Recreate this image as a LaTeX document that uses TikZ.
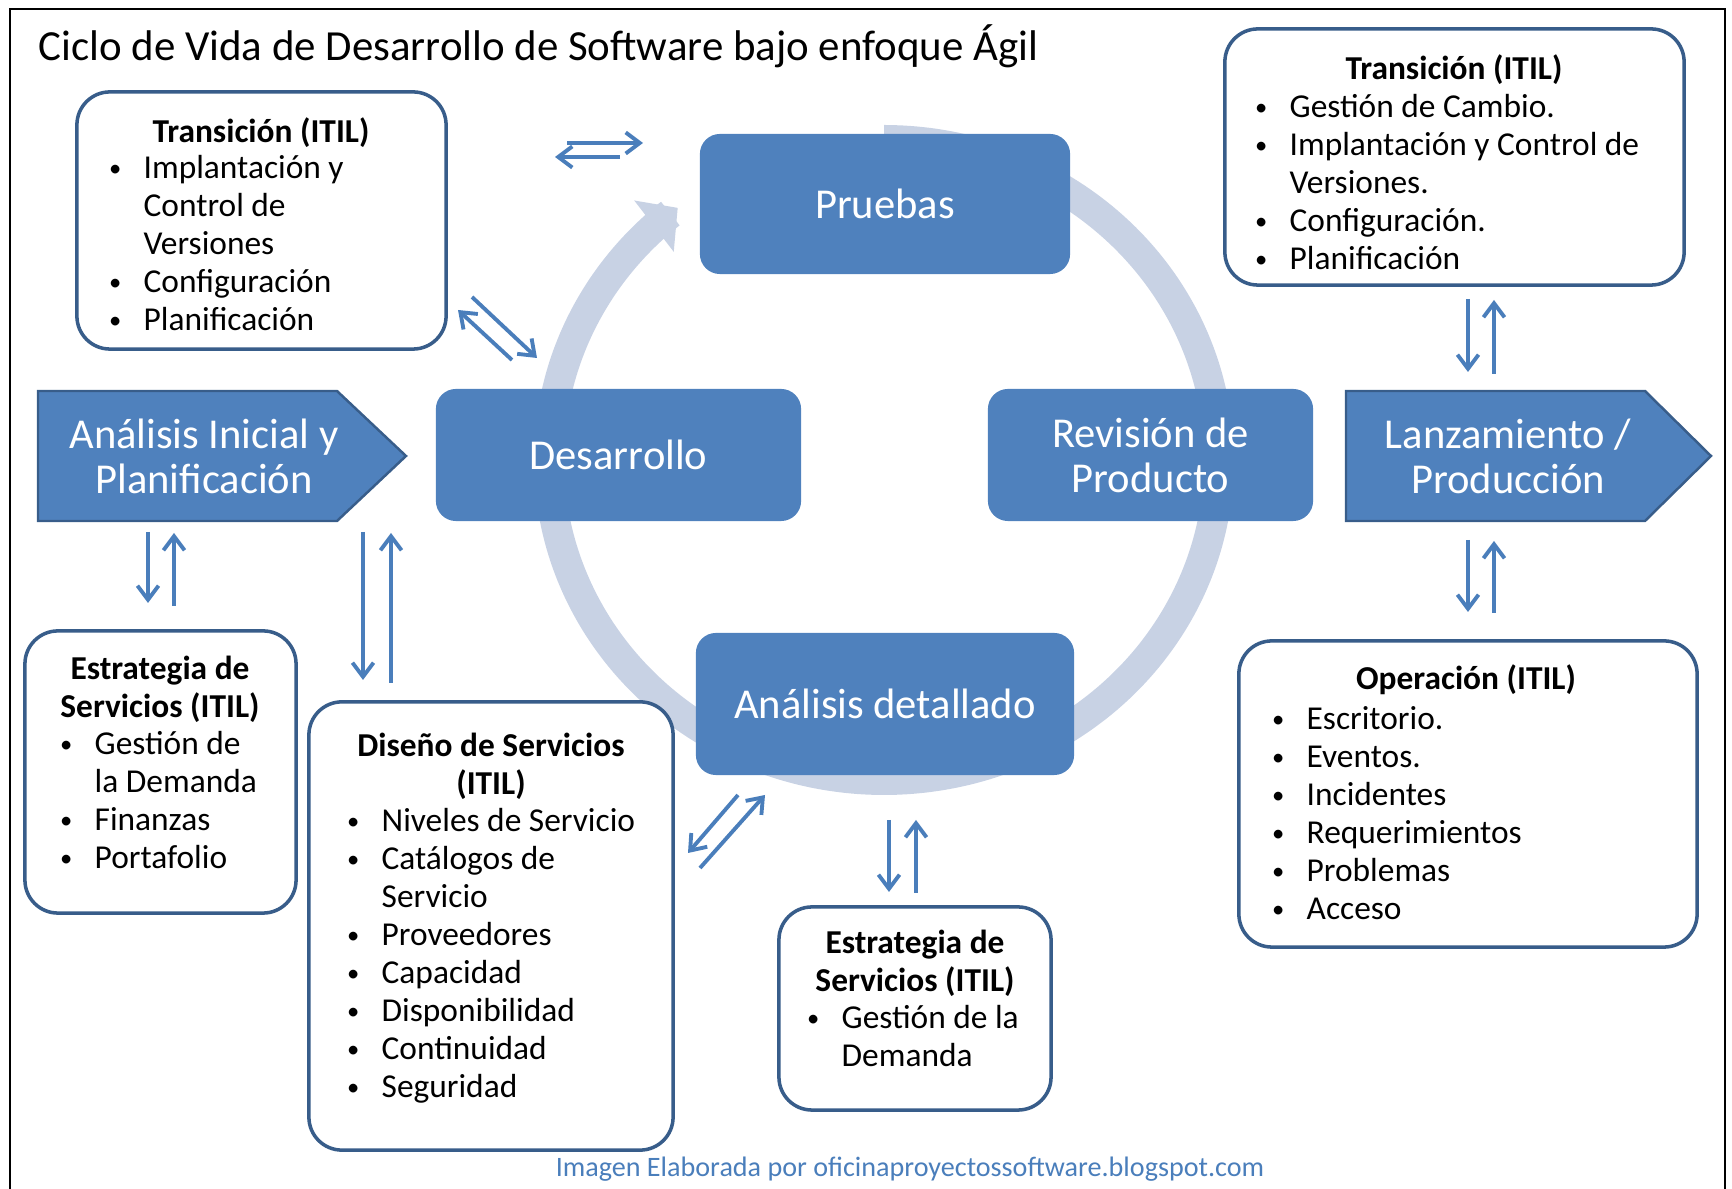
\documentclass[tikz,border=0pt]{standalone}
\usepackage{fontspec}
\setmainfont{Carlito}
\usetikzlibrary{arrows.meta}
\definecolor{azul}{HTML}{4F81BD}
\definecolor{azulosc}{HTML}{385D8A}
\definecolor{anillo}{HTML}{C8D2E4}
\definecolor{flecha}{HTML}{4A7EBB}
\newcommand{\vin}{\makebox[10.8pt][l]{\hspace{1pt}\raisebox{0.6pt}{\fontsize{7}{7}\selectfont\textbullet}}}
\newcommand{\sang}{\hspace*{10.8pt}}
\newcommand{\lineas}[1]{\begin{tabular}[t]{@{}l@{}}#1\end{tabular}}
\newcommand{\centradas}[1]{\begin{tabular}[t]{@{}c@{}}#1\end{tabular}}

\begin{document}
\begin{tikzpicture}[x=0.01cm,y=-0.01cm,
    rotulo/.style={text=white,inner sep=0pt,align=center,font=\fontsize{12.1}{12.8}\selectfont},
    fase/.style={rotulo,fill=azul,rounded corners=0.2cm},
    etapa/.style={fill=azul,draw=azulosc,line width=0.7pt},
    caja/.style={draw=azulosc,line width=1pt,rounded corners=0.33cm,fill=white,inner sep=0pt},
    titcaja/.style={inner sep=0pt,anchor=base,font=\fontsize{9.5}{10.8}\selectfont\bfseries},
    items/.style={inner sep=0pt,anchor=base west,font=\fontsize{9.5}{10.8}\selectfont},
    ida/.style={draw=flecha,line width=1.1pt,-{Straight Barb[length=4pt,width=6pt]}}]
    \useasboundingbox (0,0) rectangle (1732,1189);
    \draw[line width=0.6pt] (10,1189) -- (10,9) -- (1725,9) -- (1725,1189);

    \node[anchor=base west,inner sep=0pt,font=\fontsize{12.2}{14}\selectfont] (titulo) at (38,61) {Ciclo de Vida de Desarrollo de Software bajo enfoque Ágil};

    \draw[anillo,line width=0.3cm,-{Triangle[width=0.63cm,length=0.3cm]}]
        plot[domain=0:322,samples=120,smooth] ({884+335*cos(90-\x)},{460-320*sin(90-\x)});

    \node[fase,minimum width=3.70cm,minimum height=1.40cm] (pru) at (885,204) {Pruebas};
    \node[fase,minimum width=3.65cm,minimum height=1.32cm] (des) at (618.5,455) {Desarrollo};
    \node[fase,minimum width=3.25cm,minimum height=1.32cm] (rev) at (1150.5,455) {Revisión de\\Producto};
    \node[fase,minimum width=3.78cm,minimum height=1.42cm] (adt) at (885,704) {Análisis detallado};

    \draw[etapa] (38,391) -- (337,391) -- (406,456) -- (337,521) -- (38,521) -- cycle;
    \node[rotulo] (ini) at (204,456) {Análisis Inicial y\\Planificación};
    \draw[etapa] (1346,391) -- (1645,391) -- (1711,456) -- (1645,521) -- (1346,521) -- cycle;
    \node[rotulo] (lan) at (1508,456) {Lanzamiento /\\Producción};

    \node[caja,minimum width=3.69cm,minimum height=2.57cm] (tr1) at (261.5,220.5) {};
    \node[titcaja] (tr1t) at (261,143) {Transición (ITIL)};
    \node[items] (tr1l) at (105,179) {\lineas{\vin Implantación y\\ \sang Control de\\ \sang Versiones\\ \vin Configuración\\ \vin Planificación}};

    \node[caja,minimum width=4.59cm,minimum height=2.56cm] (tr2) at (1454.5,157) {};
    \node[titcaja] (tr2t) at (1454,80) {Transición (ITIL)};
    \node[items] (tr2l) at (1251,118) {\lineas{\vin Gestión de Cambio.\\ \vin Implantación y Control de\\ \sang Versiones.\\ \vin Configuración.\\ \vin Planificación}};

    \node[caja,minimum width=4.58cm,minimum height=3.06cm] (op) at (1468,794) {};
    \node[titcaja] (opt) at (1466,690) {Operación (ITIL)};
    \node[items] (opl) at (1268,730) {\lineas{\vin Escritorio.\\ \vin Eventos.\\ \vin Incidentes\\ \vin Requerimientos\\ \vin Problemas\\ \vin Acceso}};

    \node[caja,minimum width=2.71cm,minimum height=2.82cm] (es1) at (160.5,772) {};
    \node[titcaja] (es1t) at (160,680) {\centradas{Estrategia de\\Servicios (ITIL)}};
    \node[items] (es1l) at (56,755) {\lineas{\vin Gestión de\\ \sang la Demanda\\ \vin Finanzas\\ \vin Portafolio}};

    \node[caja,minimum width=3.64cm,minimum height=4.48cm] (dis) at (491,926) {};
    \node[titcaja] (dist) at (491,757) {\centradas{Diseño de Servicios\\(ITIL)}};
    \node[items] (disl) at (343,832) {\lineas{\vin Niveles de Servicio\\ \vin Catálogos de\\ \sang Servicio\\ \vin Proveedores\\ \vin Capacidad\\ \vin Disponibilidad\\ \vin Continuidad\\ \vin Seguridad}};

    \node[caja,minimum width=2.72cm,minimum height=2.03cm] (es2) at (915,1008.5) {};
    \node[titcaja] (es2t) at (915,954) {\centradas{Estrategia de\\Servicios (ITIL)}};
    \node[items] (es2l) at (803,1029) {\lineas{\vin Gestión de la\\ \sang Demanda}};

    \coordinate (a1) at (148,532);  \coordinate (b1) at (148,603);
    \coordinate (a2) at (174,606);  \coordinate (b2) at (174,533);
    \coordinate (a3) at (363,532);  \coordinate (b3) at (363,680);
    \coordinate (a4) at (391,683);  \coordinate (b4) at (391,533);
    \coordinate (a5) at (1468,299); \coordinate (b5) at (1468,372);
    \coordinate (a6) at (1494,374); \coordinate (b6) at (1494,300);
    \coordinate (a7) at (1468,540); \coordinate (b7) at (1468,612);
    \coordinate (a8) at (1494,613); \coordinate (b8) at (1494,541);
    \coordinate (a9) at (889,820);  \coordinate (b9) at (889,892);
    \coordinate (a10) at (916,893); \coordinate (b10) at (916,820);
    \coordinate (a11) at (567,143); \coordinate (b11) at (643,143);
    \coordinate (a12) at (620,157); \coordinate (b12) at (555,157);
    \coordinate (a13) at (472,297); \coordinate (b13) at (537,358);
    \coordinate (a14) at (512,360); \coordinate (b14) at (458,310);
    \coordinate (a15) at (738,795); \coordinate (b15) at (688,853);
    \coordinate (a16) at (700,868); \coordinate (b16) at (765,795);
    \foreach \i in {1,...,16}
        \draw[ida] (a\i) -- (b\i);

    \node[anchor=base,inner sep=0pt,text=flecha,font=\fontsize{8}{9}\selectfont] (pie) at (910,1177) {Imagen Elaborada por oficinaproyectossoftware.blogspot.com};
\end{tikzpicture}
\end{document}
